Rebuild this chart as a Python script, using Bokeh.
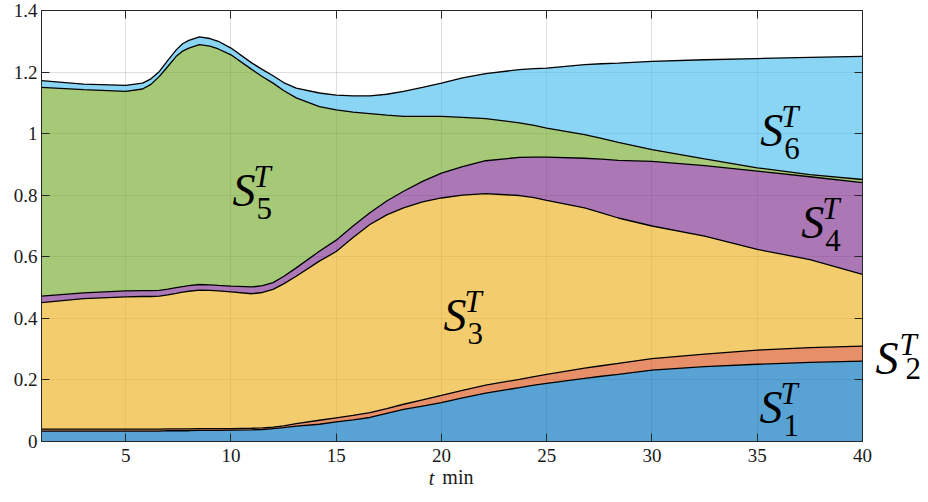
from bokeh.plotting import figure
from bokeh.models import (ColumnDataSource, Range1d, LinearAxis, FixedTicker,
                          Label, CustomJSTickFormatter)
from bokeh.embed import file_html
from bokeh.resources import INLINE

# ---- data ----
t_min = [1, 3, 5, 5.8, 6.2, 6.6, 7.0, 7.4, 7.7, 8.0, 8.5, 9.0, 9.4, 10, 11, 11.5, 12, 12.5,
         13.1, 14.2, 15, 15.8, 16.6, 17.4, 18.2, 19.1, 20, 21, 22.1, 23.7, 24.4, 25, 26.8,
         27.6, 28.4, 30, 32.5, 35, 37.5, 40]

S1 = [0.034, 0.034, 0.034, 0.034, 0.034, 0.034, 0.035, 0.035, 0.035, 0.035, 0.036, 0.036,
      0.036, 0.037, 0.038, 0.039, 0.042, 0.045, 0.050, 0.056, 0.064, 0.070, 0.078, 0.091,
      0.104, 0.115, 0.126, 0.142, 0.157, 0.175, 0.183, 0.189, 0.205, 0.212, 0.218, 0.232,
      0.243, 0.251, 0.257, 0.261]
S2 = [0.006, 0.006, 0.006, 0.006, 0.006, 0.006, 0.006, 0.006, 0.006, 0.006, 0.006, 0.006,
      0.006, 0.005, 0.005, 0.005, 0.005, 0.006, 0.008, 0.013, 0.013, 0.015, 0.016, 0.016,
      0.017, 0.020, 0.024, 0.024, 0.026, 0.027, 0.028, 0.029, 0.033, 0.034, 0.036, 0.037,
      0.041, 0.046, 0.048, 0.049]
S3 = [0.411, 0.424, 0.430, 0.431, 0.431, 0.432, 0.435, 0.440, 0.444, 0.447, 0.450, 0.449,
      0.447, 0.444, 0.437, 0.440, 0.447, 0.461, 0.479, 0.517, 0.540, 0.578, 0.611, 0.629,
      0.638, 0.643, 0.641, 0.634, 0.622, 0.597, 0.581, 0.565, 0.521, 0.497, 0.472, 0.431,
      0.383, 0.327, 0.286, 0.233]
S4 = [0.021, 0.019, 0.019, 0.019, 0.019, 0.019, 0.019, 0.019, 0.018, 0.018, 0.018, 0.018,
      0.018, 0.019, 0.022, 0.022, 0.022, 0.024, 0.027, 0.032, 0.037, 0.037, 0.038, 0.045,
      0.054, 0.067, 0.081, 0.093, 0.107, 0.124, 0.132, 0.141, 0.161, 0.174, 0.187, 0.210,
      0.229, 0.254, 0.269, 0.298]
S5 = [0.678, 0.660, 0.648, 0.655, 0.670, 0.695, 0.723, 0.751, 0.765, 0.772, 0.779, 0.775,
      0.768, 0.751, 0.706, 0.679, 0.648, 0.604, 0.552, 0.470, 0.423, 0.370, 0.322, 0.279,
      0.243, 0.211, 0.184, 0.160, 0.137, 0.112, 0.103, 0.094, 0.077, 0.068, 0.059, 0.038,
      0.022, 0.011, 0.007, 0.010]
S6 = [0.022, 0.018, 0.020, 0.019, 0.018, 0.016, 0.020, 0.021, 0.024, 0.025, 0.025, 0.025,
      0.025, 0.022, 0.021, 0.023, 0.024, 0.026, 0.032, 0.044, 0.048, 0.053, 0.058, 0.068,
      0.081, 0.094, 0.108, 0.128, 0.146, 0.173, 0.184, 0.195, 0.227, 0.242, 0.257, 0.287,
      0.322, 0.355, 0.381, 0.400]

series_names = ["S1", "S2", "S3", "S4", "S5", "S6"]
series_colors = ["#0072BD", "#D95319", "#EDB120", "#7E2F8E", "#77AC30", "#4DBEEE"]

x_ticks = [5, 10, 15, 20, 25, 30, 35, 40]
y_ticks = [0, 0.2, 0.4, 0.6, 0.8, 1.0, 1.2, 1.4]
y_tick_labels = ["0", "0.2", "0.4", "0.6", "0.8", "1", "1.2", "1.4"]

source = ColumnDataSource(dict(t=t_min, S1=S1, S2=S2, S3=S3, S4=S4, S5=S5, S6=S6))

AX = "#262626"
TXT = "#1a1a1a"
FONT = "Liberation Serif"

p = figure(frame_width=821, frame_height=431,
           x_range=Range1d(1, 40), y_range=Range1d(0, 1.4),
           output_backend="svg", toolbar_location=None,
           min_border_left=41, min_border_right=50,
           min_border_top=10, min_border_bottom=40,
           background_fill_color="white", border_fill_color="white")

p.varea_stack(stackers=series_names, x="t", fill_color=series_colors,
              fill_alpha=0.65, source=source)
p.vline_stack(stackers=series_names, x="t", line_color="black",
              line_width=1.3, source=source)

# grid
for g in (p.xgrid, p.ygrid):
    g.grid_line_color = AX
    g.grid_line_alpha = 0.15
    g.grid_line_width = 1
p.xgrid.ticker = FixedTicker(ticks=x_ticks)
p.ygrid.ticker = FixedTicker(ticks=y_ticks)

p.outline_line_color = AX
p.outline_line_width = 1


def style_axis(ax):
    ax.axis_line_color = AX
    ax.axis_line_width = 1
    ax.major_tick_in = 8
    ax.major_tick_out = 0
    ax.major_tick_line_color = AX
    ax.minor_tick_line_color = None
    ax.major_label_text_font = FONT
    ax.major_label_text_font_size = "19px"
    ax.major_label_text_color = TXT


xa = p.xaxis[0]
ya = p.yaxis[0]
xa.ticker = FixedTicker(ticks=x_ticks)
ya.ticker = FixedTicker(ticks=y_ticks)
ya.major_label_overrides = {v: s for v, s in zip(y_ticks, y_tick_labels)}
style_axis(xa)
style_axis(ya)
xa.major_label_standoff = 7
ya.major_label_standoff = 4

empty = CustomJSTickFormatter(code="return ''")
top_ax = LinearAxis(ticker=FixedTicker(ticks=x_ticks), formatter=empty)
right_ax = LinearAxis(ticker=FixedTicker(ticks=y_ticks), formatter=empty)
for ax in (top_ax, right_ax):
    style_axis(ax)
    ax.major_label_standoff = 0
    ax.major_label_text_font_size = "1px"
p.add_layout(top_ax, "above")
p.add_layout(right_ax, "right")


def text_axis(pos, txt, size, style, standoff, side):
    """An axis that carries a single text label at a fixed position (no line, no tick)."""
    ax = LinearAxis(ticker=FixedTicker(ticks=[pos]),
                    formatter=CustomJSTickFormatter(args=dict(txt=txt), code="return txt"))
    ax.axis_line_color = None
    ax.major_tick_line_color = None
    ax.minor_tick_line_color = None
    ax.major_tick_in = 0
    ax.major_tick_out = 0
    ax.major_label_standoff = standoff
    ax.major_label_text_font = FONT
    ax.major_label_text_font_size = size
    ax.major_label_text_font_style = style
    ax.major_label_text_color = "black" if side == "right" else TXT
    p.add_layout(ax, side)
    return ax


# S_2^T sits outside the plot box, on the right
text_axis(0.270, "S", "46px", "italic", 13, "right")
text_axis(0.315, "T", "31px", "italic", -2, "right")
text_axis(0.236, "2", "31px", "normal", -14, "right")

# x axis label "t min"
text_axis(19.53, "t", "20px", "italic", 2, "below")
text_axis(20.78, "min", "20px", "normal", -26, "below")


# in-plot labels S_i^T
def s_label(x, y, idx):
    common = dict(x=x, y=y, text_font=FONT, text_color="black", text_baseline="bottom")
    p.add_layout(Label(text="S", text_font_style="italic", text_font_size="46px", **common))
    p.add_layout(Label(text="T", x_offset=21, y_offset=22, text_font_style="italic",
                       text_font_size="31px", **common))
    p.add_layout(Label(text=str(idx), x_offset=24, y_offset=-3, text_font_size="31px",
                       **common))


s_label(35.11, 0.029, 1)
s_label(20.10, 0.328, 3)
s_label(37.09, 0.630, 4)
s_label(10.07, 0.731, 5)
s_label(35.14, 0.929, 6)

open("out.html", "w").write(file_html(p, INLINE))
